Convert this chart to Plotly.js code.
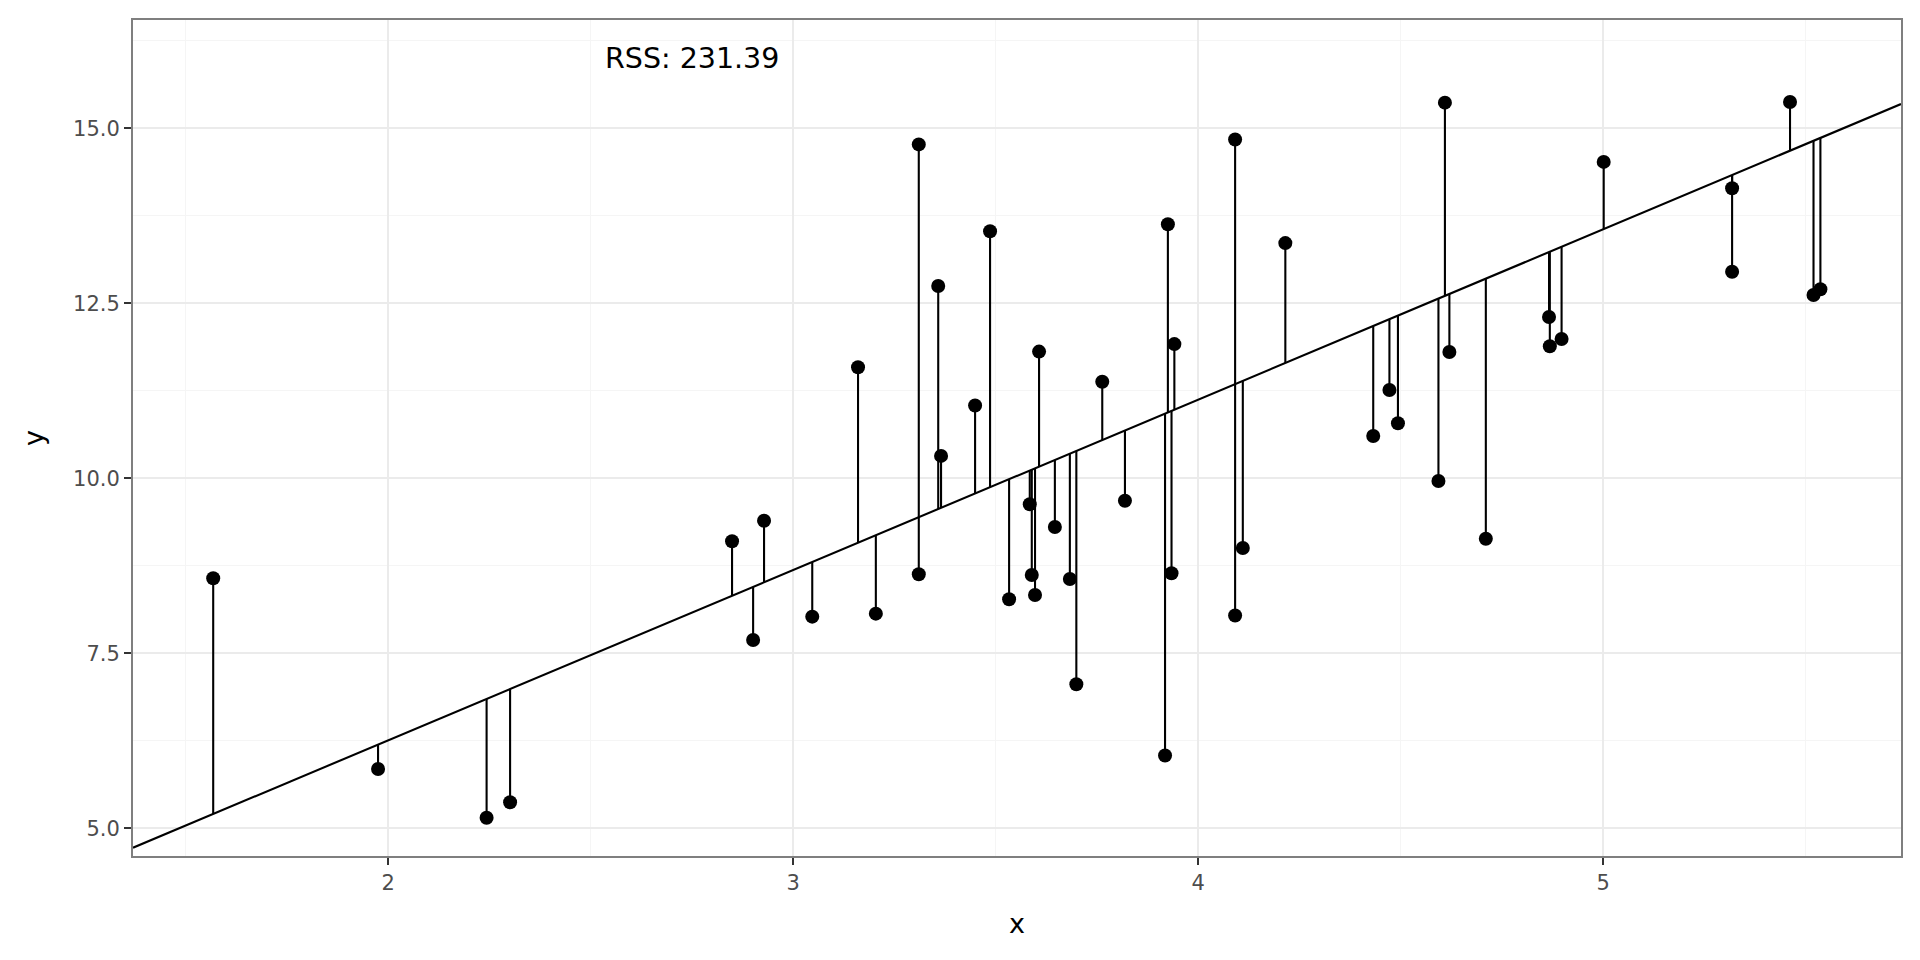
<!DOCTYPE html>
<html>
<head>
<meta charset="utf-8">
<script src="https://cdn.plot.ly/plotly-3.0.1.min.js"></script>
<style>html,body{margin:0;padding:0;background:#fff;}#chart{width:1920px;height:960px;}</style>
</head>
<body>
<div id="chart"></div>
<script>
// Observations
const xVals = [1.568, 1.975, 2.243, 2.301, 2.849, 2.901, 2.928, 3.047, 3.160, 3.204,
  3.310, 3.310, 3.358, 3.365, 3.449, 3.486, 3.533, 3.584, 3.589, 3.597,
  3.607, 3.646, 3.683, 3.699, 3.763, 3.819, 3.918, 3.925, 3.934, 3.941,
  4.091, 4.091, 4.110, 4.215, 4.432, 4.472, 4.493, 4.593, 4.609, 4.620,
  4.710, 4.866, 4.868, 4.897, 5.001, 5.318, 5.318, 5.461, 5.519, 5.536];
const yVals = [8.571, 5.847, 5.151, 5.371, 9.100, 7.690, 9.394, 8.023, 11.586, 8.066,
  14.770, 8.630, 12.747, 10.320, 11.040, 13.530, 8.271, 9.629, 8.619, 8.333,
  11.810, 9.304, 8.561, 7.057, 11.380, 9.680, 6.039, 13.630, 8.643, 11.917,
  14.840, 8.039, 9.003, 13.360, 10.604, 11.261, 10.786, 9.961, 15.366, 11.804,
  9.137, 12.304, 11.886, 11.990, 14.520, 14.143, 12.951, 15.376, 12.619, 12.700];
// Fitted line
const intercept = 1.388;
const slope = 2.434;
const rssLabel = "RSS: 231.39";
const xTicks = [2, 3, 4, 5];
const xTickText = ["2", "3", "4", "5"];
const yTicks = [5, 7.5, 10, 12.5, 15];
const yTickText = ["5.0", "7.5", "10.0", "12.5", "15.0"];

const xRange = [1.370, 5.735];
const yRange = [4.604, 16.547];

const segX = [], segY = [];
for (let i = 0; i < xVals.length; i++) {
  const fit = intercept + slope * xVals[i];
  segX.push(xVals[i], xVals[i], null);
  segY.push(yVals[i], fit, null);
}

const traces = [
  { x: segX, y: segY, mode: 'lines', type: 'scatter', line: {color: '#000', width: 2.1}, hoverinfo: 'skip', showlegend: false },
  { x: xRange, y: xRange.map(v => intercept + slope * v), mode: 'lines', type: 'scatter', line: {color: '#000', width: 2.1}, showlegend: false },
  { x: xVals, y: yVals, mode: 'markers', type: 'scatter', marker: {color: '#000', size: 14}, showlegend: false }
];

const fam = 'DejaVu Sans, sans-serif';
const layout = {
  width: 1920, height: 960,
  margin: {l: 133, r: 19, t: 20, b: 104},
  paper_bgcolor: '#fff', plot_bgcolor: '#fff',
  font: {family: fam, color: '#000'},
  showlegend: false,
  xaxis: {
    range: xRange, tickvals: xTicks, ticktext: xTickText,
    showgrid: true, gridcolor: '#EBEBEB', gridwidth: 2.2, zeroline: false,
    minor: {tickvals: [1.5, 2.5, 3.5, 4.5, 5.5], showgrid: true, gridcolor: '#F5F5F5', gridwidth: 1.2, ticks: ''},
    ticks: 'outside', ticklen: 7, tickwidth: 2, tickcolor: '#333333',
    tickfont: {size: 21, color: '#4D4D4D', family: fam},
    showline: true, mirror: true, linecolor: '#7F7F7F', linewidth: 2,
    title: {text: 'x', font: {size: 27, color: '#000', family: fam}, standoff: 20}
  },
  yaxis: {
    range: yRange, tickvals: yTicks, ticktext: yTickText,
    showgrid: true, gridcolor: '#EBEBEB', gridwidth: 2.2, zeroline: false,
    minor: {tickvals: [6.25, 8.75, 11.25, 13.75, 16.25], showgrid: true, gridcolor: '#F5F5F5', gridwidth: 1.2, ticks: ''},
    ticks: 'outside', ticklen: 7, tickwidth: 2, tickcolor: '#333333',
    tickfont: {size: 21, color: '#4D4D4D', family: fam},
    showline: true, mirror: true, linecolor: '#7F7F7F', linewidth: 2,
    title: {text: 'y', font: {size: 27, color: '#000', family: fam}, standoff: 22}
  },
  annotations: [{
    x: 2.75, y: 16, xref: 'x', yref: 'y', text: rssLabel, showarrow: false,
    font: {size: 28.5, color: '#000', family: fam}, xanchor: 'center', yanchor: 'middle'
  }]
};

Plotly.newPlot('chart', traces, layout, {displayModeBar: false, staticPlot: true});
</script>
</body>
</html>
